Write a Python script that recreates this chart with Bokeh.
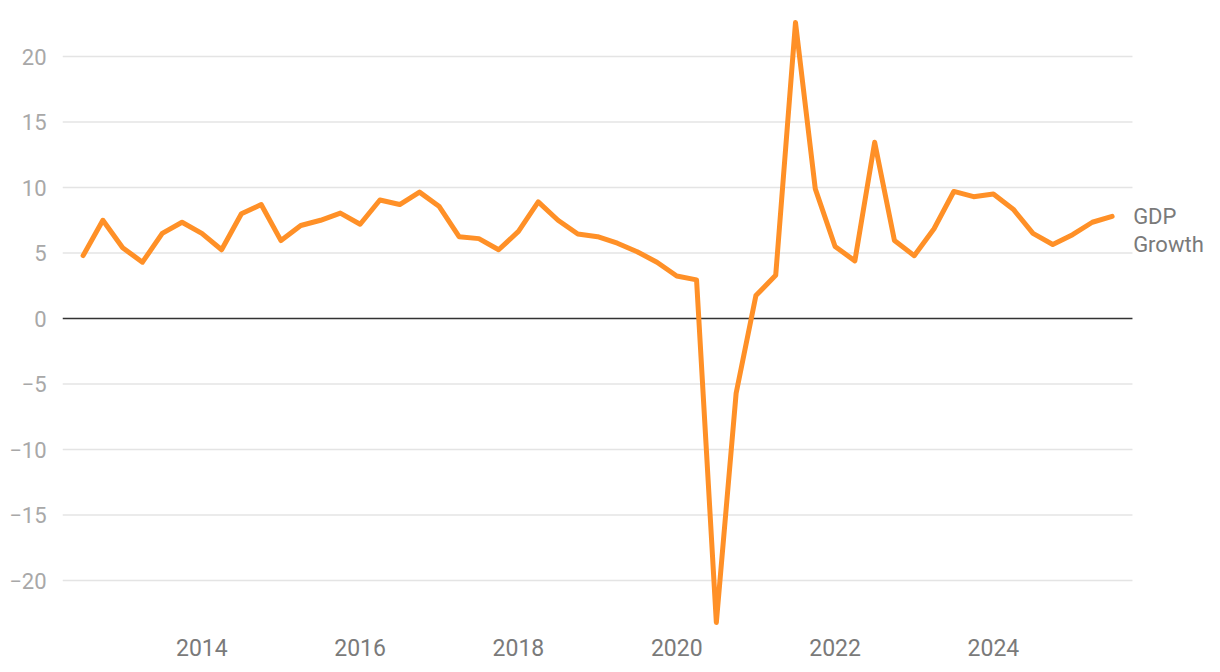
from bokeh.plotting import figure
from bokeh.models import FixedTicker, Label, Range1d
from bokeh.embed import file_html
from bokeh.resources import INLINE

# Quarterly GDP growth, 2012 Q3 .. 2025 Q3 (decimal-year positions)
start_year = 2012.5
gdp_growth = [
    4.8, 7.5, 5.4, 4.3, 6.5, 7.35, 6.5, 5.25, 8.0, 8.7,
    5.95, 7.1, 7.5, 8.05, 7.2, 9.05, 8.7, 9.65, 8.55, 6.25,
    6.1, 5.25, 6.65, 8.9, 7.5, 6.45, 6.25, 5.75, 5.1, 4.3,
    3.25, 2.95, -23.2, -5.7, 1.75, 3.3, 22.6, 9.9, 5.5, 4.4,
    13.45, 5.95, 4.8, 6.85, 9.7, 9.3, 9.5, 8.35, 6.5, 5.65,
    6.4, 7.35, 7.8,
]
quarters = [start_year + 0.25 * i for i in range(len(gdp_growth))]

x_ticks = [2014, 2016, 2018, 2020, 2022, 2024]
y_ticks = [-20, -15, -10, -5, 0, 5, 10, 15, 20]
y_tick_labels = {t: (str(t) if t >= 0 else "\u2212" + str(-t)) for t in y_ticks}
series_label = ["GDP", "Growth"]

X_START, X_END = 2012.24, 2026.768
GRID_END = 2025.757  # grid lines stop short of the label area

p = figure(
    width=1212, height=664,
    output_backend="svg", toolbar_location=None,
    x_range=Range1d(X_START, X_END),
    y_range=Range1d(-23.66, 23.36),
    min_border_left=62, min_border_right=0,
    min_border_top=12, min_border_bottom=36,
)
p.outline_line_color = None
p.background_fill_color = "white"
p.border_fill_color = "white"

# axes
p.xaxis.ticker = FixedTicker(ticks=x_ticks)
p.yaxis.ticker = FixedTicker(ticks=y_ticks)
p.yaxis.major_label_overrides = y_tick_labels
for ax in (p.xaxis, p.yaxis):
    ax.axis_line_color = None
    ax.major_tick_line_color = None
    ax.minor_tick_line_color = None
    ax.major_label_text_font = "Roboto"
p.xaxis.major_label_text_font_size = "23px"
p.yaxis.major_label_text_font_size = "22px"
p.xaxis.major_label_text_color = "#7a7a7a"
p.yaxis.major_label_text_color = "#a8a8a8"
p.xaxis.major_label_standoff = 4
p.yaxis.major_label_standoff = 10

p.xgrid.grid_line_color = None
p.ygrid.grid_line_color = None

# horizontal grid lines (ending before the series label)
grid_vals = [t for t in y_ticks if t != 0]
p.segment(x0=[X_START] * len(grid_vals), x1=[GRID_END] * len(grid_vals),
          y0=grid_vals, y1=grid_vals, line_color="#e4e4e4", line_width=1.5)
p.segment(x0=[X_START], x1=[GRID_END], y0=[0], y1=[0],
          line_color="#333333", line_width=1.5)

p.line(quarters, gdp_growth, line_color="#FF9027", line_width=5,
       line_join="round", line_cap="round")

lx, ly = quarters[-1], gdp_growth[-1]
for k, txt in enumerate(series_label):
    p.add_layout(Label(x=lx, y=ly, x_offset=21, y_offset=-28 * k, text=txt,
                       text_font="Roboto", text_font_size="22px",
                       text_color="#7a7a7a", text_baseline="middle",
                       text_align="left"))

open("out.html", "w").write(file_html(p, INLINE))
